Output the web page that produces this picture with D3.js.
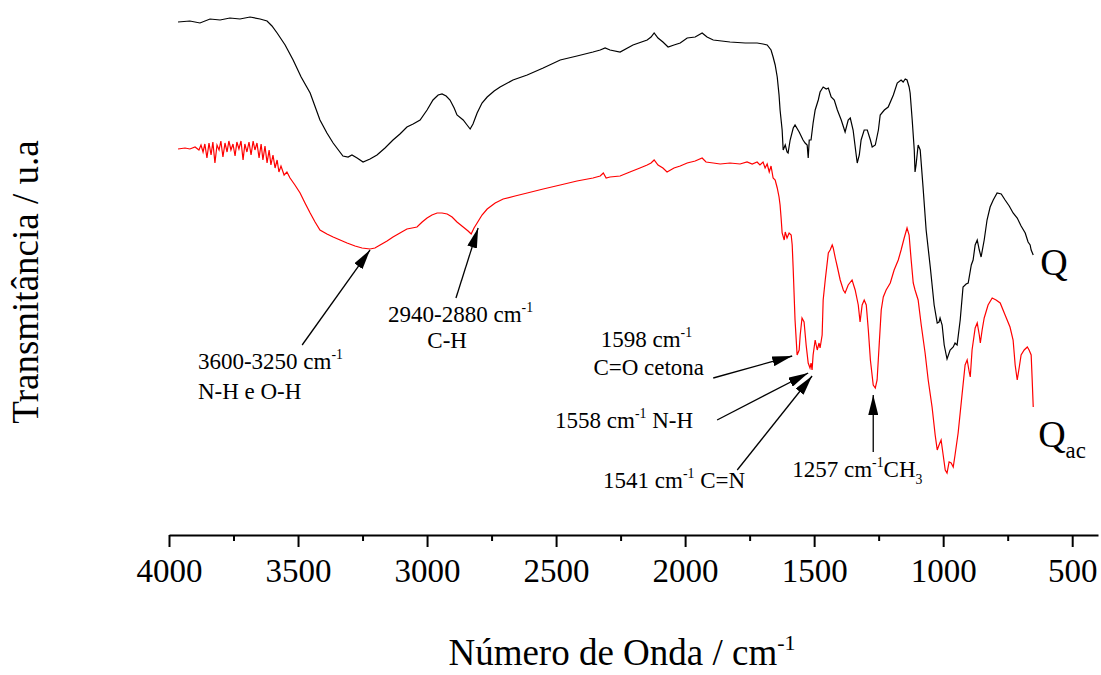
<!DOCTYPE html>
<html>
<head>
<meta charset="utf-8">
<script src="https://cdn.jsdelivr.net/npm/d3@7"></script>
<style>
  body { margin: 0; background: #fff; }
  svg { display: block; }
  svg text { font-family: 'Liberation Serif', 'Times New Roman', Times, 'DejaVu Serif', serif; fill: #000; }
</style>
</head>
<body>
<div id="chart"></div>
<script>
// [wavenumber cm-1, transmittance a.u.]
const qSpectrum = [
  [3965,513],[3919,514],[3880,512],[3841,516],[3802,515],[3764,517],[3725,516],[3686,518],[3647,516],[3620,514],
  [3601,509],[3581,502],[3550,490],[3519,475],[3488,458],[3453,442],[3415,415],[3388,402],[3364,392],[3326,379],
  [3306,378],[3291,380],[3271,377],[3248,373],[3221,376],[3194,380],[3163,387],[3132,395],[3105,401],[3078,408],
  [3054,411],[3027,415],[3000,425],[2977,435],[2957,440],[2942,441],[2926,439],[2911,435],[2895,427],[2884,420],
  [2860,415],[2845,410],[2833,406],[2822,411],[2806,422],[2787,432],[2767,438],[2740,444],[2717,448],[2667,455],
  [2612,460],[2550,467],[2484,475],[2419,479],[2357,483],[2329,485],[2310,487],[2291,485],[2252,483],[2202,490],
  [2147,495],[2132,498],[2120,502],[2105,497],[2086,493],[2066,488],[2043,490],[2019,492],[1992,497],[1961,498],
  [1934,502],[1915,498],[1891,495],[1826,493],[1767,492],[1721,492],[1698,491],[1682,490],[1667,485],[1659,478],
  [1651,470],[1643,458],[1636,440],[1632,425],[1624,405],[1620,385],[1612,390],[1605,383],[1601,382],[1593,395],
  [1581,407],[1574,410],[1558,403],[1543,395],[1535,392],[1527,390],[1523,377],[1519,395],[1512,395],[1504,412],
  [1496,425],[1484,435],[1477,443],[1465,448],[1453,446],[1445,447],[1434,438],[1422,435],[1410,425],[1395,415],
  [1380,403],[1368,415],[1360,417],[1349,405],[1337,380],[1333,372],[1325,380],[1318,395],[1306,405],[1294,405],
  [1282,395],[1275,388],[1263,390],[1251,405],[1244,420],[1228,425],[1213,428],[1193,440],[1178,452],[1163,455],
  [1155,453],[1147,456],[1140,455],[1132,448],[1128,442],[1120,415],[1112,385],[1109,363],[1105,370],[1097,390],
  [1089,385],[1078,348],[1066,305],[1050,268],[1035,230],[1023,212],[1016,213],[1012,217],[1004,210],[996,190],
  [985,176],[973,185],[961,188],[954,192],[946,190],[934,215],[923,248],[911,251],[903,252],[891,270],
  [884,275],[876,290],[868,295],[860,285],[853,278],[841,295],[830,315],[818,328],[806,335],[791,342],
  [775,341],[760,335],[744,329],[729,322],[713,317],[698,309],[682,302],[671,293],[663,290],[659,285],[651,280]
];

const qacSpectrum = [
  [3965,386],[3938,387],[3919,386],[3899,388],[3884,385],[3876,390],[3868,383],[3861,391],[3853,377],[3845,392],
  [3837,380],[3830,393],[3822,372],[3814,390],[3806,385],[3799,394],[3791,378],[3783,392],[3775,383],[3768,394],
  [3760,385],[3752,391],[3744,379],[3737,393],[3729,386],[3721,394],[3713,375],[3706,391],[3698,383],[3690,393],
  [3682,380],[3674,394],[3667,385],[3659,392],[3651,377],[3643,391],[3636,375],[3628,389],[3620,372],[3612,385],
  [3605,370],[3597,380],[3589,367],[3581,375],[3574,363],[3566,369],[3554,360],[3543,363],[3531,357],[3512,350],
  [3492,342],[3473,332],[3453,322],[3434,313],[3415,305],[3388,301],[3364,298],[3337,295],[3310,292],[3279,289],
  [3252,287],[3221,286],[3202,287],[3182,290],[3155,294],[3132,298],[3105,302],[3078,306],[3058,307],[3039,308],
  [3019,313],[3000,317],[2981,320],[2961,322],[2942,322],[2922,321],[2903,318],[2884,313],[2860,308],[2841,304],
  [2829,301],[2818,307],[2806,312],[2787,320],[2767,326],[2736,332],[2705,336],[2659,339],[2612,342],[2550,346],
  [2484,350],[2419,354],[2357,357],[2329,359],[2317,362],[2306,357],[2291,358],[2252,359],[2214,363],[2175,367],
  [2147,370],[2132,372],[2120,375],[2105,370],[2086,367],[2070,363],[2043,367],[2019,369],[1992,372],[1961,374],
  [1934,377],[1919,373],[1891,372],[1864,371],[1826,372],[1787,371],[1760,373],[1740,371],[1721,373],[1710,370],
  [1698,373],[1690,367],[1682,371],[1674,363],[1667,369],[1659,357],[1651,355],[1643,347],[1636,338],[1632,330],
  [1628,317],[1624,302],[1616,295],[1612,303],[1605,297],[1597,302],[1589,300],[1585,290],[1581,265],[1574,215],
  [1566,180],[1558,185],[1554,200],[1547,217],[1539,213],[1531,190],[1523,172],[1516,167],[1512,172],[1508,165],
  [1504,180],[1496,195],[1488,185],[1481,192],[1477,187],[1469,200],[1465,235],[1457,255],[1445,282],[1438,285],
  [1430,290],[1426,287],[1418,277],[1410,268],[1399,255],[1387,245],[1380,242],[1368,250],[1353,255],[1341,245],
  [1329,230],[1322,213],[1314,230],[1306,235],[1298,230],[1290,205],[1282,175],[1271,150],[1263,147],[1256,155],
  [1248,190],[1240,225],[1232,238],[1221,245],[1205,252],[1190,265],[1174,275],[1163,285],[1151,297],[1140,307],
  [1132,300],[1124,275],[1116,252],[1109,245],[1097,235],[1085,210],[1070,182],[1058,155],[1043,128],[1031,100],
  [1023,85],[1016,90],[1008,95],[1000,80],[992,65],[985,62],[977,73],[969,72],[961,68],[954,80],
  [942,102],[927,140],[915,170],[907,175],[899,163],[895,158],[888,185],[876,207],[868,212],[860,200],
  [856,192],[849,205],[841,217],[826,230],[810,237],[795,235],[779,232],[760,220],[741,208],[729,195],
  [721,170],[713,155],[705,168],[698,180],[686,185],[674,188],[667,185],[659,180],[655,155],[651,128]
];

const majorTicks = [4000, 3500, 3000, 2500, 2000, 1500, 1000, 500];
const minorTicks = [3750, 3250, 2750, 2250, 1750, 1250, 750];

// arrow tail -> tip, in [wavenumber, a.u.]
const arrows = [
  { from: [3484, 190], to: [3221, 285] },
  { from: [2888, 237], to: [2802, 307] },
  { from: [1891, 157], to: [1585, 179] },
  { from: [1876, 115], to: [1523, 162] },
  { from: [1798, 65],  to: [1508, 159] },
  { from: [1271, 83],  to: [1271, 140] }
];

// text labels: parts = [text, "sup" | "sub" | ""]
const labels = [
  { at: [3888, 166], anchor: "start",  parts: [["3600-3250 cm", ""], ["-1", "sup"]] },
  { at: [3888, 136], anchor: "start",  parts: [["N-H e O-H", ""]] },
  { at: [3151, 213], anchor: "start",  parts: [["2940-2880 cm", ""], ["-1", "sup"]] },
  { at: [2922, 187], anchor: "middle", parts: [["C-H", ""]] },
  { at: [2150, 188], anchor: "middle", parts: [["1598 cm", ""], ["-1", "sup"]] },
  { at: [2141, 160], anchor: "middle", parts: [["C=O cetona", ""]] },
  { at: [2504, 107], anchor: "start",  parts: [["1558 cm", ""], ["-1", "sup"], [" N-H", ""]] },
  { at: [2318, 47],  anchor: "start",  parts: [["1541 cm", ""], ["-1", "sup"], [" C=N", ""]] },
  { at: [1585, 58],  anchor: "start",  parts: [["1257 cm", ""], ["-1", "sup"], ["CH", ""], ["3", "sub"]] }
];

const seriesNames = [
  { at: [624, 260], parts: [["Q", ""]] },
  { at: [632, 88],  parts: [["Q", ""], ["ac", "sub"]] }
];

const W = 1101, H = 675;
const serif = "'Liberation Serif', 'Times New Roman', Times, 'DejaVu Serif', serif";
const svg = d3.select("#chart").append("svg")
  .attr("width", W).attr("height", H)
  .style("font-family", serif);

const x = d3.scaleLinear().domain([4000, 400]).range([169, 1098]);
const y = d3.scaleLinear().domain([0, 520]).range([535, 15]);

// axis
const axisG = svg.append("g").attr("transform", "translate(0,535)");
axisG.call(d3.axisBottom(x).tickValues(majorTicks).tickFormat(d3.format("d"))
  .tickSize(12).tickSizeOuter(0).tickPadding(12));
axisG.attr("font-family", null);
axisG.select(".domain").attr("stroke-width", 2).attr("stroke", "#000");
axisG.selectAll(".tick line").attr("stroke-width", 2).attr("stroke", "#000");
axisG.selectAll(".tick text")
  .attr("font-size", 33)
  .style("font-family", serif)
  .attr("fill", "#000");

svg.append("g").attr("transform", "translate(0,535)")
  .call(d3.axisBottom(x).tickValues(minorTicks).tickSize(6).tickFormat(""))
  .call(g => g.select(".domain").remove())
  .selectAll(".tick line").attr("stroke-width", 2).attr("stroke", "#000");

// axis titles
const xt = svg.append("text")
  .attr("x", 622).attr("y", 665)
  .attr("text-anchor", "middle")
  .attr("font-size", 37);
xt.append("tspan").text("Número de Onda / cm");
xt.append("tspan").attr("dy", -15).attr("font-size", 22).text("-1");

svg.append("text")
  .attr("transform", "translate(38,282) rotate(-90)")
  .attr("text-anchor", "middle")
  .attr("font-size", 37)
  .text("Transmitância / u.a");

// spectra
const line = d3.line().x(d => x(d[0])).y(d => y(d[1]));

svg.append("path").datum(qSpectrum)
  .attr("d", line).attr("fill", "none")
  .attr("stroke", "#000").attr("stroke-width", 1.2);

svg.append("path").datum(qacSpectrum)
  .attr("d", line).attr("fill", "none")
  .attr("stroke", "#ff0000").attr("stroke-width", 1.2);

// arrows
svg.append("defs").append("marker")
  .attr("id", "head")
  .attr("markerUnits", "userSpaceOnUse")
  .attr("viewBox", "0 0 20 10")
  .attr("markerWidth", 20).attr("markerHeight", 10)
  .attr("refX", 20).attr("refY", 5)
  .attr("orient", "auto")
  .append("path").attr("d", "M0,0 L20,5 L0,10 Z").attr("fill", "#000");

svg.selectAll(".arrow").data(arrows).enter().append("line")
  .attr("class", "arrow")
  .attr("x1", d => x(d.from[0])).attr("y1", d => y(d.from[1]))
  .attr("x2", d => x(d.to[0])).attr("y2", d => y(d.to[1]))
  .attr("stroke", "#000").attr("stroke-width", 1.3)
  .attr("marker-end", "url(#head)");

function writeParts(sel, parts, fs) {
  let shift = 0;
  parts.forEach(p => {
    const t = sel.append("tspan").text(p[0]);
    let target = 0;
    if (p[1] === "sup") { target = -0.42 * fs; t.attr("font-size", fs * 0.6); }
    if (p[1] === "sub") { target = 0.3 * fs; t.attr("font-size", fs * 0.6); }
    t.attr("dy", target - shift);
    shift = target;
  });
}

labels.forEach(l => {
  const t = svg.append("text")
    .attr("x", x(l.at[0])).attr("y", y(l.at[1]))
    .attr("text-anchor", l.anchor)
    .attr("font-size", 23);
  writeParts(t, l.parts, 23);
});

seriesNames.forEach(l => {
  const t = svg.append("text")
    .attr("x", x(l.at[0])).attr("y", y(l.at[1]))
    .attr("font-size", 38);
  writeParts(t, l.parts, 38);
});
</script>
</body>
</html>
